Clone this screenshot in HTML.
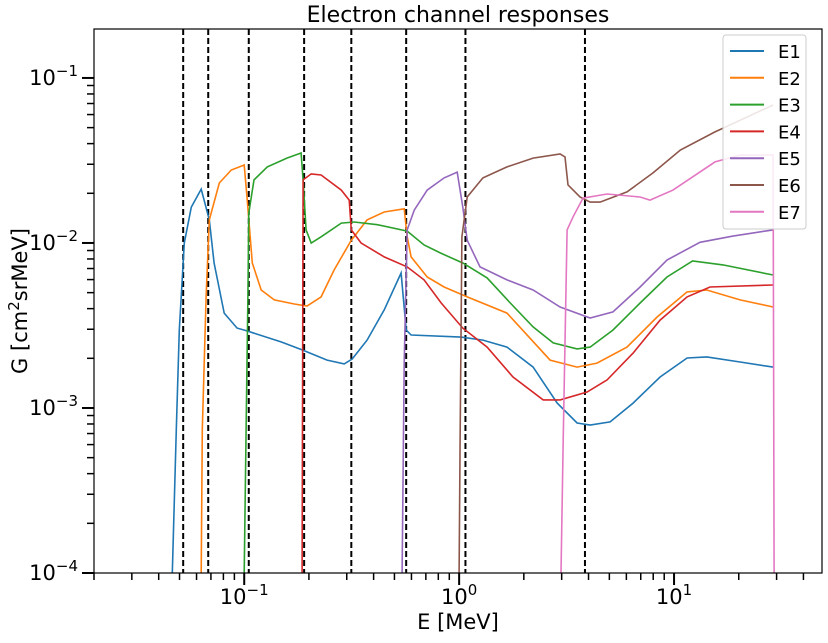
<!DOCTYPE html>
<html><head><meta charset="utf-8"><style>
body{margin:0;background:#fff;width:828px;height:638px;overflow:hidden}
svg{font-family:"DejaVu Sans","Liberation Sans",sans-serif}
</style></head><body>
<svg id="chart" width="828" height="638"></svg>
<script>
const seriesNames=["E1","E2","E3","E4","E5","E6","E7"];
const seriesColors=["#1f77b4","#ff7f0e","#2ca02c","#d62728","#9467bd","#8c564b","#e377c2"];
const e1E=[0.0463,0.0483,0.0499,0.0526,0.0567,0.0631,0.0688,0.0724,0.0807,0.0927,0.103,0.149,0.186,0.243,0.292,0.318,0.373,0.448,0.537,0.567,0.598,1.02,1.29,1.67,2.21,2.86,3.54,4.07,5.04,6.45,8.61,11.5,14.2,20.3,28.9];
const e1G=[1e-4,7.4e-4,2.97e-3,1e-2,1.65e-2,2.12e-2,1.38e-2,7.56e-3,3.76e-3,3.05e-3,2.93e-3,2.51e-3,2.25e-3,1.95e-3,1.85e-3,1.98e-3,2.58e-3,3.93e-3,6.58e-3,2.97e-3,2.77e-3,2.69e-3,2.58e-3,2.34e-3,1.77e-3,1.07e-3,8.11e-4,7.88e-4,8.23e-4,1.07e-3,1.54e-3,2.01e-3,2.04e-3,1.90e-3,1.77e-3];
const e2E=[0.0631,0.0638,0.0665,0.0688,0.0766,0.0871,0.1,0.103,0.109,0.120,0.138,0.171,0.196,0.228,0.262,0.315,0.373,0.448,0.555,0.573,0.598,0.710,0.851,1.09,1.67,2.65,3.54,4.38,6.04,8.34,11.5,14.2,20.3,28.9];
const e2G=[1e-4,7.4e-4,4.71e-3,1.38e-2,2.31e-2,2.77e-2,2.97e-2,1.90e-2,7.56e-3,5.19e-3,4.52e-3,4.27e-3,4.15e-3,4.71e-3,6.86e-3,1.04e-2,1.38e-2,1.54e-2,1.61e-2,1.09e-2,8.23e-3,6.22e-3,5.41e-3,4.71e-3,3.76e-3,1.95e-3,1.77e-3,1.87e-3,2.34e-3,3.56e-3,5.05e-3,5.19e-3,4.52e-3,4.09e-3];
const e3E=[0.1,0.102,0.104,0.105,0.111,0.128,0.158,0.184,0.188,0.194,0.205,0.228,0.283,0.325,0.416,0.573,0.687,0.816,1.04,1.35,1.73,2.21,2.74,3.54,4.07,5.20,6.95,9.27,12.2,16.9,28.9];
const e3G=[1e-4,7.4e-4,4.71e-3,1.52e-2,2.41e-2,2.89e-2,3.27e-2,3.51e-2,2.41e-2,1.20e-2,1e-2,1.09e-2,1.32e-2,1.34e-2,1.29e-2,1.18e-2,9.72e-3,8.70e-3,7.56e-3,6.14e-3,4.33e-3,3.10e-3,2.48e-3,2.28e-3,2.34e-3,2.97e-3,4.33e-3,6.22e-3,7.78e-3,7.36e-3,6.40e-3];
const e4E=[0.186,0.188,0.205,0.228,0.283,0.308,0.315,0.350,0.448,0.573,0.687,0.825,1.04,1.35,1.78,2.46,2.95,3.94,4.88,6.45,8.61,11.5,14.7,28.9];
const e4G=[1e-4,2.41e-2,2.62e-2,2.58e-2,2.09e-2,1.82e-2,1.20e-2,1e-2,8.23e-3,7.16e-3,5.97e-3,4.33e-3,3.05e-3,2.34e-3,1.54e-3,1.12e-3,1.12e-3,1.25e-3,1.48e-3,2.15e-3,3.41e-3,4.71e-3,5.41e-3,5.56e-3];
const e5E=[0.543,0.555,0.573,0.618,0.710,0.851,0.979,1.04,1.09,1.25,1.67,2.21,2.95,4.07,5.20,6.95,9.27,13.2,18.8,28.9];
const e5G=[1e-4,1.87e-3,1.20e-2,1.58e-2,2.09e-2,2.48e-2,2.69e-2,1.65e-2,1.04e-2,7.16e-3,5.97e-3,5.19e-3,4.09e-3,3.51e-3,3.82e-3,5.41e-3,7.88e-3,1.01e-2,1.10e-2,1.20e-2];
const e6E=[1,1.01,1.03,1.09,1.29,1.67,2.21,2.95,3.11,3.21,3.65,4.07,4.53,6.04,7.98,10.7,15.5,28.9];
const e6G=[1e-4,6.4e-4,1.09e-2,1.90e-2,2.48e-2,2.89e-2,3.27e-2,3.46e-2,3.32e-2,2.25e-2,1.90e-2,1.77e-2,1.77e-2,2.04e-2,2.66e-2,3.66e-2,4.71e-2,6.86e-2];
const e7E=[2.98,3.05,3.18,3.39,3.77,4.88,6.95,7.73,9.89,15.5,20.3,28.9,29.2];
const e7G=[1e-4,6.4e-4,1.20e-2,1.44e-2,1.87e-2,1.98e-2,1.90e-2,1.82e-2,2.09e-2,3.10e-2,3.41e-2,3.41e-2,1e-4];
const thresholds=[0.052,0.068,0.105,0.19,0.315,0.567,1.07,3.85];
const xTickExps=[-1,0,1];
const yTickExps=[-4,-3,-2,-1];

const svg=document.getElementById('chart');
const NS='http://www.w3.org/2000/svg';
const L=94,R=822,T=29,B=573;
const xmin=Math.log10(0.02),xmax=Math.log10(48.8),ymin=-4,ymax=Math.log10(0.198);
function X(e){return L+(Math.log10(e)-xmin)/(xmax-xmin)*(R-L);}
function Y(g){return B-(Math.log10(g)-ymin)/(ymax-ymin)*(B-T);}
function mk(tag,attrs,parent){const el=document.createElementNS(NS,tag);for(const k in attrs)el.setAttribute(k,attrs[k]);(parent||svg).appendChild(el);return el;}

const clip=mk('clipPath',{id:'pc'});mk('rect',{x:L,y:T,width:R-L,height:B-T},clip);

const thrG=mk('g',{});


thresholds.forEach((t,i)=>{const l=mk('line',{x1:X(t),x2:X(t),y1:T,y2:B,stroke:'#000','stroke-width':2,'stroke-dasharray':'6,3'},thrG);

});

const allE=[e1E,e2E,e3E,e4E,e5E,e6E,e7E],allG=[e1G,e2G,e3G,e4G,e5G,e6G,e7G];
allE.forEach((es,i)=>{const gs=allG[i];const d=es.map((e,j)=>(j?'L':'M')+X(e).toFixed(1)+','+Y(gs[j]).toFixed(1)).join('');
const p=mk('path',{d:d,fill:'none',stroke:seriesColors[i],'stroke-width':1.6,'clip-path':'url(#pc)'});

});

const fr=mk('rect',{x:L,y:T,width:R-L,height:B-T,fill:'none',stroke:'#000','stroke-width':1.2});



const xa=mk('g',{});


for(let p=-2;p<=1;p++)for(let m=1;m<10;m++){const v=m*Math.pow(10,p);const x=X(v);if(x<L-0.5||x>R+0.5)continue;
mk('line',{x1:x,x2:x,y1:B,y2:B+(m==1?12:7),stroke:'#000','stroke-width':m==1?2:1.5},xa);}
xTickExps.forEach(p=>{const t=mk('text',{x:X(Math.pow(10,p)),y:604,'text-anchor':'middle','font-size':21},xa);
t.innerHTML='10<tspan dy="-9" font-size="15">'+(p<0?'−'+(-p):p)+'</tspan>';

});
const ya=mk('g',{});


for(let p=-4;p<=-1;p++)for(let m=1;m<10;m++){const v=m*Math.pow(10,p);const y=Y(v);if(y<T-0.5)continue;
mk('line',{x1:L,x2:L-(m==1?12:7),y1:y,y2:y,stroke:'#000','stroke-width':m==1?2:1.5},ya);}
yTickExps.forEach(p=>{const t=mk('text',{x:78,y:Y(Math.pow(10,p))+7,'text-anchor':'end','font-size':21},ya);
t.innerHTML='10<tspan dy="-9" font-size="15">−'+(-p)+'</tspan>';

});

let t=mk('text',{x:458,y:22,'text-anchor':'middle','font-size':22});t.textContent='Electron channel responses';


t=mk('text',{x:458,y:629,'text-anchor':'middle','font-size':21});t.textContent='E [MeV]';


t=mk('text',{x:0,y:0,'text-anchor':'middle','font-size':21,transform:'translate(27,301) rotate(-90)'});
t.innerHTML='G [cm<tspan dy="-8" font-size="15">2</tspan><tspan dy="8">srMeV]</tspan>';



const lg=mk('g',{});


mk('rect',{x:723,y:35,width:83,height:194,rx:3,fill:'#fff','fill-opacity':0.85,stroke:'#ccc'},lg);
seriesNames.forEach((n,i)=>{const y=51+i*26.8;const g=mk('g',{},lg);


mk('line',{x1:730,x2:764,y1:y,y2:y,stroke:seriesColors[i],'stroke-width':2},g);
const tx=mk('text',{x:778,y:y+7,'font-size':18},g);tx.textContent=n;});
</script>
</body></html>
